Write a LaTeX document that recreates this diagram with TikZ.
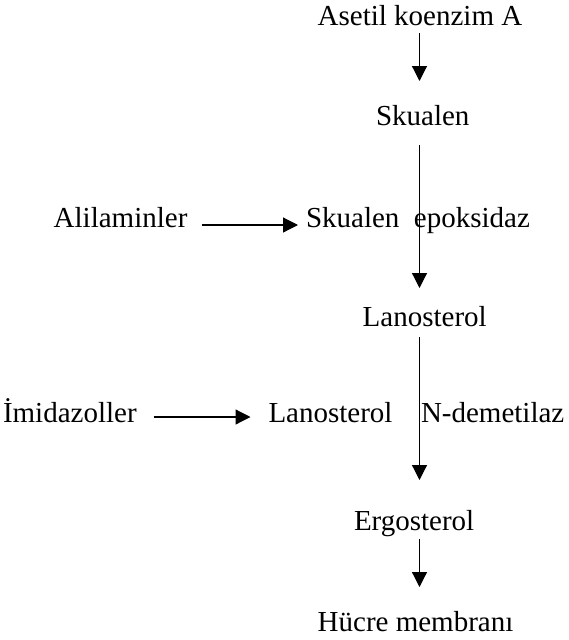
\documentclass[tikz,border=0pt]{standalone}
\usepackage{fontspec}
\setmainfont{Liberation Serif}
\usetikzlibrary{arrows.meta,calc}
\begin{document}
\begin{tikzpicture}[x=1pt,y=-1pt,
  lbl/.style={anchor=base west,inner sep=0pt,outer sep=0pt,font=\fontsize{29}{34}\selectfont},
  arr/.style={-{Triangle[length=15pt,width=15pt]},line width=1.2pt}]
\path[fill=white,use as bounding box] (0,0) rectangle (569,640);
\node[lbl] (asetil) at (317.7,25) {Asetil koenzim A};
\node[lbl] (skualen) at (376,125) {Skualen};
\node[lbl] (alil) at (53.7,227) {Alilaminler};
\node[lbl] (skep) at (306,227) {Skualen\ \ epoksidaz};
\node[lbl] (lanoA) at (362.7,326.7) {Lanosterol};
\node[lbl] (imid) at (3,422) {İmidazoller};
\node[lbl] (lanoB) at (268.5,422) {Lanosterol\hspace{28.5pt}N-demetilaz};
\node[lbl] (ergo) at (354,530) {Ergosterol};
\node[lbl] (hucre) at (317.7,631.7) {Hücre membranı};
\coordinate (axis) at (419.5,0);
\draw[arr] ($(asetil.base -| axis)+(0,8)$) -- ($(skualen.base -| axis)+(0,-44)$);
\draw[arr] ($(skualen.base -| axis)+(0,20)$) -- ($(lanoA.base -| axis)+(0,-38.7)$);
\draw[arr] ($(lanoA.base -| axis)+(0,10.3)$) -- ($(ergo.base -| axis)+(0,-50)$);
\draw[arr] ($(ergo.base -| axis)+(0,9)$) -- ($(hucre.base -| axis)+(0,-44.7)$);
\draw[arr] ($(alil.base east)+(14.6,-2)$) -- ($(skep.base west)+(-8,-2)$);
\draw[arr] ($(imid.base east)+(17,-5)$) -- ($(lanoB.base west)+(-18,-5)$);
\end{tikzpicture}
\end{document}
